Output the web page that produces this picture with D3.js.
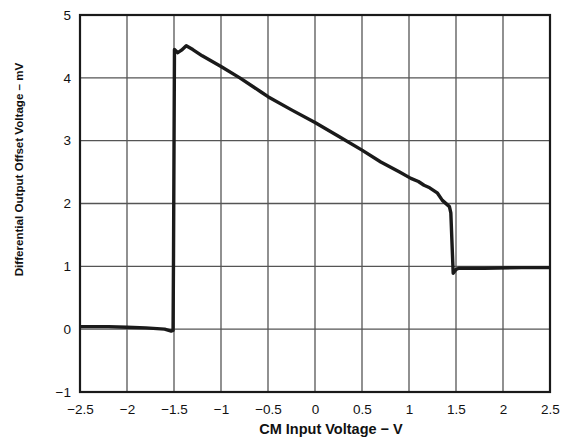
<!DOCTYPE html>
<html><head><meta charset="utf-8">
<script src="https://cdn.jsdelivr.net/npm/d3@7"></script>
<style>body{margin:0;background:#fff}</style>
</head><body>
<script>
const xTicks = [-2.5,-2,-1.5,-1,-0.5,0,0.5,1,1.5,2,2.5];
const xTickLabels = ["−2.5","−2","−1.5","−1","−0.5","0","0.5","1","1.5","2","2.5"];
const yTicks = [-1,0,1,2,3,4,5];
const yTickLabels = ["−1","0","1","2","3","4","5"];
const xTitle = "CM Input Voltage − V";
const yTitle = "Differential Output Offset Voltage – mV";
const cmVoltage = [-2.5,-2.2,-2.0,-1.8,-1.6,-1.53,-1.51,-1.505,-1.495,-1.46,-1.42,-1.37,-1.3,-1.2,-1.0,-0.8,-0.57,-0.5,-0.25,0,0.25,0.5,0.7,0.9,1.02,1.1,1.16,1.22,1.3,1.355,1.43,1.445,1.47,1.5,1.53,1.8,2.2,2.5];
const offsetMv  = [0.04,0.04,0.03,0.02,0.0,-0.03,-0.02,1.2,4.45,4.40,4.44,4.51,4.45,4.35,4.18,4.0,3.77,3.70,3.49,3.29,3.07,2.85,2.66,2.50,2.40,2.35,2.29,2.25,2.17,2.05,1.95,1.85,0.89,0.95,0.97,0.97,0.98,0.98];

const W = 565, H = 439;
const m = {l:80, r:15, t:15, b:47};
const svg = d3.select("body").append("svg").attr("width",W).attr("height",H)
  .style("font-family","'Liberation Sans', Arial, sans-serif");
const x = d3.scaleLinear().domain([-2.5,2.5]).range([m.l, W-m.r]);
const y = d3.scaleLinear().domain([-1,5]).range([H-m.b, m.t]);

// grid
svg.append("g").selectAll("line").data(xTicks.slice(1,-1)).join("line")
  .attr("x1",d=>x(d)).attr("x2",d=>x(d)).attr("y1",y(-1)).attr("y2",y(5))
  .attr("stroke","#555").attr("stroke-width",1.3);
svg.append("g").selectAll("line").data(yTicks.slice(1,-1)).join("line")
  .attr("y1",d=>y(d)).attr("y2",d=>y(d)).attr("x1",x(-2.5)).attr("x2",x(2.5))
  .attr("stroke","#555").attr("stroke-width",1.3);

// axes labels via d3 axes
const xa = svg.append("g").attr("transform",`translate(0,${y(-1)})`)
  .call(d3.axisBottom(x).tickValues(xTicks).tickFormat((d,i)=>xTickLabels[i]).tickSize(0).tickPadding(12));
const ya = svg.append("g").attr("transform",`translate(${x(-2.5)},0)`)
  .call(d3.axisLeft(y).tickValues(yTicks).tickFormat((d,i)=>yTickLabels[i]).tickSize(0).tickPadding(9));
[xa,ya].forEach(a=>{a.select(".domain").remove(); a.selectAll("text").attr("font-size",13.5).attr("fill","#111").style("font-family","'Liberation Sans', Arial, sans-serif");});

// border
svg.append("rect").attr("x",x(-2.5)).attr("y",y(5)).attr("width",x(2.5)-x(-2.5)).attr("height",y(-1)-y(5))
  .attr("fill","none").attr("stroke","#1a1a1a").attr("stroke-width",2.2);

// curve
const line = d3.line().x((d,i)=>x(cmVoltage[i])).y(d=>y(d));
svg.append("path").datum(offsetMv).attr("d",line).attr("fill","none")
  .attr("stroke","#1a1a1a").attr("stroke-width",3.4).attr("stroke-linejoin","round");

// titles
svg.append("text").attr("x",331).attr("y",434).attr("text-anchor","middle")
  .attr("font-size",14.5).attr("font-weight","bold").attr("fill","#111").text(xTitle);
svg.append("text").attr("transform",`translate(23,${(y(-1)+y(5))/2 - 34}) rotate(-90)`).attr("text-anchor","middle")
  .attr("font-size",11.6).attr("font-weight","bold").attr("fill","#111").text(yTitle);
</script>
</body></html>
